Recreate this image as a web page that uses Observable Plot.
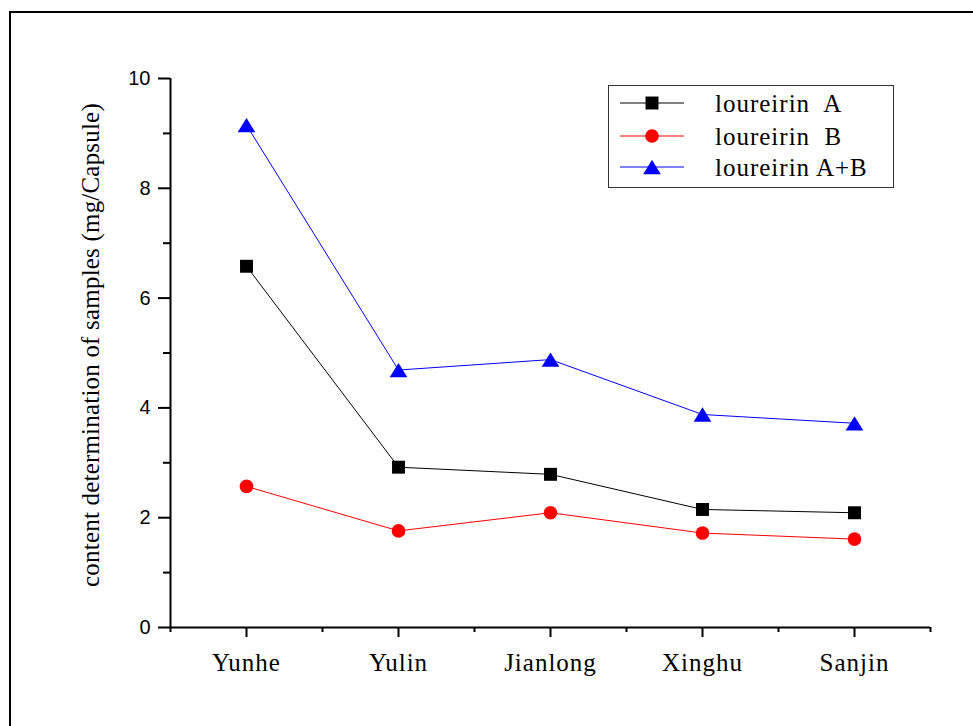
<!DOCTYPE html>
<html><head><meta charset="utf-8">
<script src="https://cdn.jsdelivr.net/npm/d3@7"></script>
<script src="https://cdn.jsdelivr.net/npm/@observablehq/plot@0.6"></script>
<style>
body{margin:0;background:#fff;overflow:hidden;}
#wrap{position:relative;width:973px;height:726px;overflow:hidden;background:#fff}
#chart{position:absolute;left:0;top:0}
#frame{position:absolute;left:9px;top:11px;width:2000px;height:2000px;border:2px solid #000;box-sizing:border-box;pointer-events:none}
#legend{position:absolute;left:608px;top:85px}
.serif{font-family:"Liberation Serif","Times New Roman",serif}
svg.main g[aria-label="x-axis tick label"] text{letter-spacing:1px}
svg.main g[aria-label="text"] text{letter-spacing:0.2px}
</style></head>
<body><div id="wrap"><div id="chart"></div><div id="legend"></div><div id="frame"></div></div>
<script>
const categories = ["Yunhe", "Yulin", "Jianlong", "Xinghu", "Sanjin"];
const loureirinA  = [6.58, 2.92, 2.79, 2.15, 2.09];
const loureirinB  = [2.57, 1.76, 2.09, 1.72, 1.61];
const loureirinAB = [9.15, 4.69, 4.88, 3.88, 3.72];
const seriesNames = ["loureirin  A", "loureirin  B", "loureirin A+B"];
const seriesColors = ["#000000", "#ff0000", "#0000ff"];
const yMajor = [0, 2, 4, 6, 8, 10];
const yMinor = [1, 3, 5, 7, 9];
const yLabel = "content determination of samples (mg/Capsule)";

const serif = "Liberation Serif, Times New Roman, serif";
const sans = "Liberation Sans, Arial, sans-serif";

const triUp = {draw(ctx, size){ const r = Math.sqrt(size/Math.PI); const w = r*1.3, h = r*1.05;
  ctx.moveTo(0,-h); ctx.lineTo(w,h); ctx.lineTo(-w,h); ctx.closePath(); }};
const symbols = ["square", "circle", triUp];
const radii = [7.3, 6.8, 6.8];

const series = [loureirinA, loureirinB, loureirinAB];
const idx = categories.map((c, i) => i);
const xMinor = [-0.5, ...idx.map(i => i + 0.5)];

const marks = [
  Plot.ruleY([0], {strokeWidth: 2}),
  Plot.ruleX([-0.5], {strokeWidth: 2}),
  Plot.axisY({ticks: yMajor, tickSize: 12, tickPadding: 8, strokeWidth: 2, fontSize: 20, fontFamily: sans, color: "black", label: null, textAnchor: "end"}),
  Plot.axisY({ticks: yMinor, tickSize: 7, strokeWidth: 2, tickFormat: () => "", label: null}),
  Plot.axisX({ticks: idx, tickFormat: i => categories[i], tickSize: 10, tickPadding: 16, strokeWidth: 2, fontSize: 25, fontFamily: serif, color: "black", label: null}),
  Plot.axisX({ticks: xMinor, tickSize: 5, strokeWidth: 2, tickFormat: () => "", label: null}),
  Plot.text([yLabel], {frameAnchor: "left", textAnchor: "middle", dx: -80, dy: -8, rotate: -90, fontSize: 25, fontFamily: serif, fill: "black"})
];
series.forEach((vals, s) => {
  marks.push(Plot.line(vals, {x: (d, i) => i, y: d => d, stroke: seriesColors[s], strokeWidth: 1}));
  marks.push(Plot.dot(vals, {x: (d, i) => i, y: d => d, symbol: symbols[s], r: radii[s], fill: seriesColors[s], stroke: "none"}));
});

const chart = Plot.plot({
  width: 973, height: 726,
  marginLeft: 170, marginRight: 43, marginTop: 78, marginBottom: 99,
  className: "main",
  style: {background: "white", overflow: "visible"},
  x: {type: "linear", domain: [-0.5, categories.length - 0.5], axis: null},
  y: {domain: [0, 10], axis: null},
  marks
});
document.getElementById("chart").appendChild(chart);

// legend
const lg = d3.select("#legend").append("svg").attr("width", 286).attr("height", 103);
lg.append("rect").attr("x", 0.5).attr("y", 0.5).attr("width", 285).attr("height", 102)
  .attr("fill", "white").attr("stroke", "#333").attr("stroke-width", 1);
const rowY = [18, 51, 82];
const symD3 = [d3.symbolSquare, d3.symbolCircle, triUp];
seriesNames.forEach((name, s) => {
  const g = lg.append("g").attr("transform", `translate(0,${rowY[s]})`);
  g.append("line").attr("x1", 12).attr("x2", 76).attr("y1", 0).attr("y2", 0)
    .attr("stroke", seriesColors[s]).attr("stroke-width", 1);
  g.append("path").attr("transform", "translate(44,0)")
    .attr("d", d3.symbol(symD3[s], Math.PI * radii[s] * radii[s])())
    .attr("fill", seriesColors[s]);
  g.append("text").attr("x", 107).attr("y", 9).attr("class", "serif")
    .style("font-size", "25px").style("letter-spacing", "1px").style("white-space", "pre")
    .attr("fill", "black").text(name);
});
</script></body></html>
